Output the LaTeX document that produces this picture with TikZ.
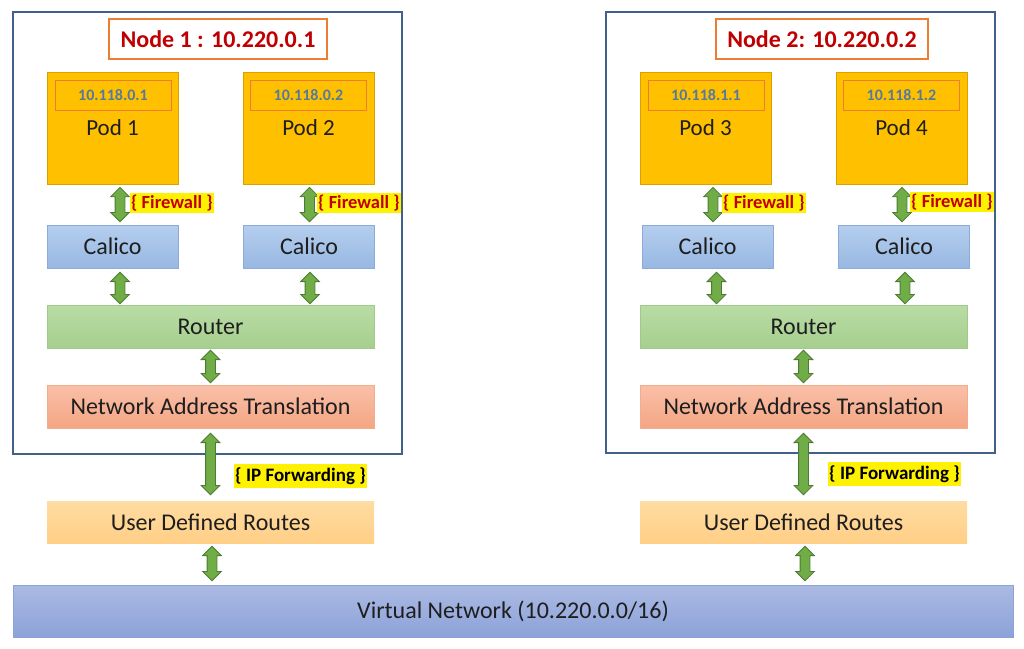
\documentclass[tikz,border=0pt]{standalone}
\usepackage{fontspec}
\setmainfont{Carlito}
\usetikzlibrary{shapes.arrows,calc,positioning}
\definecolor{frameblue}{HTML}{41608A}
\definecolor{tagorange}{HTML}{ED7D31}
\definecolor{tagred}{HTML}{C00000}
\definecolor{podfill}{HTML}{FFC000}
\definecolor{podline}{HTML}{D9A200}
\definecolor{iptext}{HTML}{557A9E}
\definecolor{ink}{HTML}{1E1E1E}
\definecolor{caltop}{HTML}{B4CEEE}
\definecolor{calbot}{HTML}{98B8E2}
\definecolor{calline}{HTML}{8EAADB}
\definecolor{rtrtop}{HTML}{B9DCA6}
\definecolor{rtrbot}{HTML}{A6CF8E}
\definecolor{rtrline}{HTML}{A0CA8A}
\definecolor{nattop}{HTML}{F9C0A8}
\definecolor{natbot}{HTML}{F4A584}
\definecolor{natline}{HTML}{F2AE8C}
\definecolor{udrtop}{HTML}{FFDCA2}
\definecolor{udrbot}{HTML}{FFCF86}
\definecolor{vnettop}{HTML}{ABBAE3}
\definecolor{vnetbot}{HTML}{8CA2D9}
\definecolor{arrfill}{HTML}{70AD47}
\definecolor{arrline}{HTML}{4E7B34}
\tikzset{
  hostframe/.style={draw=frameblue,line width=1.3pt,minimum width=389,minimum height=442,inner sep=0pt},
  hosttag/.style={draw=tagorange,line width=1.1pt,fill=white,text=tagred,
    font=\fontsize{24}{28}\selectfont\bfseries,minimum height=40,inner sep=0pt},
  pod/.style={draw=podline,fill=podfill,line width=0.8pt,minimum width=131,minimum height=112,
    inner sep=0pt,text=ink,font=\fontsize{23}{27}\selectfont},
  podip/.style={draw=tagorange,line width=0.8pt,minimum width=116,minimum height=30,inner sep=0pt,
    text=iptext,font=\fontsize{16}{19}\selectfont\bfseries},
  layer/.style={minimum height=43,inner sep=0pt,text=ink,font=\fontsize{24}{28}\selectfont},
  calico/.style={layer,minimum width=131,draw=calline,top color=caltop,bottom color=calbot},
  router/.style={layer,minimum width=327,draw=rtrline,top color=rtrtop,bottom color=rtrbot},
  natbox/.style={layer,minimum width=327,draw=natline,top color=nattop,bottom color=natbot},
  udrbox/.style={layer,minimum width=327,minimum height=42,top color=udrtop,bottom color=udrbot},
  vnetbox/.style={layer,minimum width=1000,minimum height=52,draw=vnetbot,top color=vnettop,bottom color=vnetbot},
  twoway/.style={double arrow,shape border rotate=90,draw=arrline,fill=arrfill,line width=0.8pt,
    double arrow head extend=4.5,inner sep=4.5pt},
  fwtag/.style={fill=yellow,text=tagred,font=\fontsize{18.5}{21}\selectfont\bfseries,
    anchor=west,inner xsep=1pt,inner ysep=0pt,minimum height=20},
  iptag/.style={fill=yellow,text=black,font=\fontsize{19}{22}\selectfont\bfseries,
    anchor=west,inner xsep=1pt,inner ysep=0pt,minimum height=24}
}
% block arrow between two points
\newcommand{\twoway}[2]{%
  \path let \p1=#1, \p2=#2 in
    node[twoway,minimum height={veclen(\x2-\x1,\y2-\y1)}] at ($(\p1)!.5!(\p2)$) {};}
\begin{document}
\begin{tikzpicture}[x=1pt,y=-1pt]
\useasboundingbox (0,0) rectangle (1024,648);
% node 1
\node[hostframe] (host1) at (207.5,233) {};
\node[hosttag,minimum width=218] (tag1) at (218,39) {Node 1 : 10.220.0.1};
\node[pod] (pod1) at (112.5,128) {Pod 1};
\node[podip] (ip1) at (113,95) {10.118.0.1};
\node[pod] (pod2) at (308.5,128) {Pod 2};
\node[podip] (ip2) at (308.5,95) {10.118.0.2};
\node[calico] (cal1) at (112.5,246.5) {Calico};
\node[calico] (cal2) at (309,246.5) {Calico};
\node[router] (rtr1) at (210.5,326.5) {Router};
\node[natbox] (nat1) at (210.5,406.5) {Network Address Translation};
\node[udrbox] (udr1) at (210.5,522) {User Defined Routes};
% node 2
\node[hostframe,minimum height=441] (host2) at (800.5,232.5) {};
\node[hosttag,minimum width=212] (tag2) at (822,39) {Node 2: 10.220.0.2};
\node[pod] (pod3) at (705.5,128) {Pod 3};
\node[podip] (ip3) at (706,95) {10.118.1.1};
\node[pod] (pod4) at (901.5,128) {Pod 4};
\node[podip] (ip4) at (901.5,95) {10.118.1.2};
\node[calico] (cal3) at (707.5,246.5) {Calico};
\node[calico] (cal4) at (904,246.5) {Calico};
\node[router] (rtr2) at (803.5,326.5) {Router};
\node[natbox] (nat2) at (803.5,406.5) {Network Address Translation};
\node[udrbox] (udr2) at (803.5,522) {User Defined Routes};
% virtual network
\node[vnetbox] (vnet) at (513,611) {Virtual Network (10.220.0.0/16)};
% arrows, node 1
\twoway{($(pod1.south)+(7.5,3)$)}{($(pod1.south |- cal1.north)+(7.5,-3)$)}
\twoway{($(pod2.south)+(1,3)$)}{($(pod2.south |- cal2.north)+(1,-3)$)}
\twoway{($(cal1.south)+(7.5,4)$)}{($(cal1.south |- rtr1.north)+(7.5,-1)$)}
\twoway{($(cal2.south)+(1,4)$)}{($(cal2.south |- rtr1.north)+(1,-1)$)}
\twoway{($(rtr1.south)+(0,2)$)}{($(nat1.north)+(0,-2)$)}
\twoway{($(nat1.south)+(0,5)$)}{($(udr1.north)+(0,-6)$)}
\twoway{($(udr1.south)+(1.5,3)$)}{($(udr1.south |- vnet.north)+(1.5,-4)$)}
% arrows, node 2
\twoway{($(pod3.south)+(7.5,3)$)}{($(pod3.south |- cal3.north)+(7.5,-3)$)}
\twoway{($(pod4.south)+(0.5,3)$)}{($(pod4.south |- cal4.north)+(0.5,-3)$)}
\twoway{($(cal3.south)+(9,4)$)}{($(cal3.south |- rtr2.north)+(9,-1)$)}
\twoway{($(cal4.south)+(1,4)$)}{($(cal4.south |- rtr2.north)+(1,-1)$)}
\twoway{($(rtr2.south)+(0,2)$)}{($(nat2.north)+(0,-2)$)}
\twoway{($(nat2.south)+(0,5)$)}{($(udr2.north)+(0,-6)$)}
\twoway{($(udr2.south)+(1.5,3)$)}{($(udr2.south |- vnet.north)+(1.5,-4)$)}
% tags
\node[fwtag] (fw1) at (130,203) {\{ Firewall \}};
\node[fwtag] (fw2) at (317,203) {\{ Firewall \}};
\node[fwtag] (fw3) at (722,203) {\{ Firewall \}};
\node[fwtag] (fw4) at (910,202) {\{ Firewall \}};
\node[iptag] (fwd1) at (234,476) {\{ IP Forwarding \}};
\node[iptag] (fwd2) at (828,474) {\{ IP Forwarding \}};
\end{tikzpicture}
\end{document}
